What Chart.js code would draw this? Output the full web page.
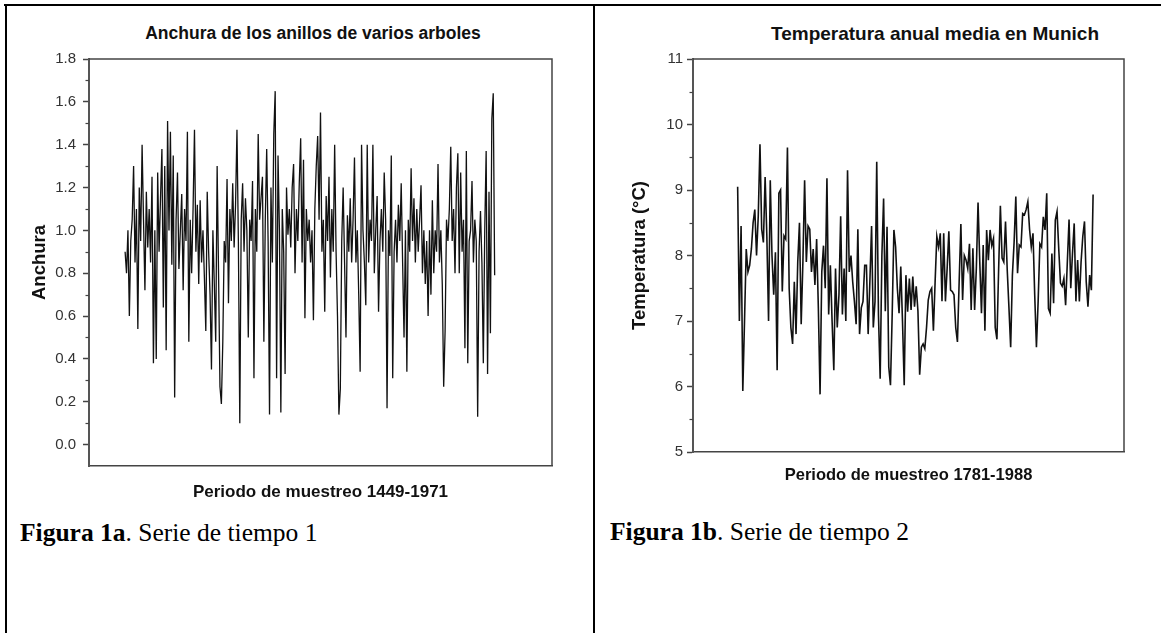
<!DOCTYPE html>
<html>
<head>
<meta charset="utf-8">
<script src="https://cdn.jsdelivr.net/npm/chart.js@4.4.1/dist/chart.umd.min.js"></script>
<style>
    body { margin: 0; width: 1161px; height: 633px; overflow: hidden; position: relative; background: #fff; font-family: 'Liberation Sans', Arial, sans-serif; }
    .rule { position: absolute; background: #000; }
    .box { position: absolute; }
    .title { position: absolute; width: 500px; text-align: center; font-weight: bold; line-height: 1; color: #111; white-space: nowrap; }
    .caption { position: absolute; font-family: 'Liberation Serif', 'Times New Roman', serif; font-size: 25.5px; line-height: 1; color: #000; white-space: nowrap; }
</style>
</head>
<body>
<div class="rule" style="left:4px; top:4px; width:1157px; height:2px;"></div>
<div class="rule" style="left:5px; top:4px; width:2px; height:629px;"></div>
<div class="rule" style="left:593px; top:4px; width:2px; height:629px;"></div>

<div class="title" style="left:63px; top:25px; font-size:17.5px;">Anchura de los anillos de varios arboles</div>
<div class="title" style="left:685px; top:24px; font-size:19px;">Temperatura anual media en Munich</div>

<div class="box" style="left:8px; top:8px; width:584px; height:500px;"><canvas id="ringsChart"></canvas></div>
<div class="box" style="left:596px; top:8px; width:565px; height:500px;"><canvas id="tempChart"></canvas></div>

<div class="caption" style="left:20px; top:520px;"><b>Figura 1a</b>. Serie de tiempo 1</div>
<div class="caption" style="left:610px; top:519px;"><b>Figura 1b</b>. Serie de tiempo 2</div>

<script>
// Figura 1a: anchura de anillos, una muestra cada 2 años (1449-1971)
const ringStartYear = 1449;
const ringStepYears = 2;
const ringWidths = [
    0.90, 0.80, 1.00, 0.60, 0.95, 1.05, 1.30, 0.85, 1.10, 0.54,
    1.20, 0.95, 1.40, 1.05, 0.72, 1.18, 0.92, 1.10, 0.85, 1.25,
    0.38, 1.00, 0.40, 1.27, 0.90, 1.15, 1.38, 0.64, 1.30, 0.44,
    1.51, 1.00, 1.46, 0.84, 1.35, 0.22, 1.05, 1.27, 0.82, 1.00,
    1.17, 0.72, 1.10, 0.95, 1.46, 0.48, 1.05, 0.80, 1.10, 1.47,
    0.90, 1.12, 0.75, 1.14, 0.85, 1.00, 0.78, 0.53, 1.18, 0.90,
    0.70, 0.35, 1.00, 0.75, 0.48, 1.30, 0.80, 0.27, 0.19, 0.48,
    0.95, 0.85, 1.24, 0.66, 1.10, 0.95, 1.22, 0.92, 1.12, 1.47,
    0.95, 0.10, 1.05, 1.22, 0.90, 1.15, 1.00, 0.50, 1.05, 0.95,
    1.23, 0.31, 1.10, 0.90, 1.45, 1.05, 1.15, 1.25, 0.48, 1.05,
    1.38, 0.95, 0.14, 1.20, 0.85, 1.45, 1.65, 0.31, 1.35, 1.00,
    0.15, 1.10, 0.90, 0.33, 1.20, 0.98, 1.10, 0.92, 1.20, 1.31,
    0.80, 1.10, 0.95, 1.22, 1.43, 0.85, 1.33, 0.59, 1.10, 0.95,
    1.05, 0.85, 1.00, 0.58, 1.10, 1.30, 1.44, 1.05, 1.55, 0.90,
    1.05, 0.62, 1.16, 0.95, 1.25, 0.78, 1.10, 0.90, 1.40, 0.90,
    0.60, 0.14, 0.26, 0.95, 1.20, 0.85, 0.50, 1.07, 0.90, 1.15,
    0.85, 1.05, 1.34, 0.85, 1.00, 0.70, 0.34, 1.40, 1.00, 0.85,
    0.65, 1.40, 0.85, 1.05, 0.95, 1.40, 0.80, 1.00, 1.16, 0.62,
    0.95, 1.10, 0.90, 1.27, 1.05, 0.17, 1.00, 0.88, 1.35, 0.31,
    0.90, 1.05, 0.85, 1.12, 0.95, 1.22, 0.85, 0.50, 1.00, 0.34,
    1.05, 0.90, 1.29, 0.95, 1.15, 0.85, 1.10, 0.90, 1.05, 1.21,
    0.80, 1.00, 0.75, 0.95, 0.60, 1.00, 0.70, 1.14, 0.80, 1.00,
    0.90, 1.31, 0.85, 1.00, 0.75, 0.27, 0.53, 1.05, 0.95, 1.10,
    1.39, 0.95, 1.10, 0.80, 1.20, 1.36, 0.80, 1.27, 0.90, 1.05,
    0.45, 1.37, 0.38, 0.95, 1.00, 1.23, 0.85, 1.05, 0.95, 0.13,
    0.90, 1.09, 0.85, 0.38, 1.00, 1.37, 0.33, 1.18, 0.52, 1.52,
    1.64, 0.79
];
const ringYTicks = [0.0, 0.2, 0.4, 0.6, 0.8, 1.0, 1.2, 1.4, 1.6, 1.8];
const ringYMinor = [0.1, 0.3, 0.5, 0.7, 0.9, 1.1, 1.3, 1.5, 1.7];

// Figura 1b: temperatura anual media en Munich (1781-1988)
const tempStartYear = 1781;
const munichTemps = [
    9.05, 7.00, 8.45, 5.93, 7.00, 8.10, 7.75, 7.85, 8.10, 8.50,
    8.70, 8.00, 8.60, 9.70, 8.40, 8.20, 9.20, 8.30, 7.00, 9.15,
    8.00, 7.40, 8.05, 6.25, 8.95, 9.00, 7.45, 8.30, 8.25, 9.65,
    7.50, 6.90, 6.65, 7.60, 6.80, 7.90, 8.50, 6.95, 7.90, 9.15,
    7.90, 8.45, 8.40, 7.75, 8.10, 7.55, 8.25, 7.20, 5.88, 7.75,
    8.15, 7.50, 9.18, 7.10, 7.85, 7.00, 6.25, 7.80, 6.90, 7.40,
    8.60, 7.10, 7.80, 7.00, 9.30, 7.75, 8.00, 7.60, 7.30, 6.95,
    8.40, 6.80, 7.20, 7.30, 7.85, 7.85, 6.80, 7.60, 8.45, 6.90,
    7.30, 9.43, 7.10, 6.12, 8.00, 8.87, 7.15, 8.44, 6.30, 6.02,
    7.10, 8.39, 8.13, 7.50, 7.12, 7.83, 7.00, 6.02, 7.70, 7.14,
    7.65, 7.17, 7.68, 7.22, 7.53, 7.15, 6.18, 6.60, 6.65, 6.58,
    6.90, 7.32, 7.45, 7.50, 6.85, 7.60, 8.29, 8.13, 8.34, 7.30,
    8.34, 7.30, 7.80, 8.37, 7.47, 7.45, 7.40, 6.90, 6.68, 7.60,
    8.48, 7.32, 8.00, 7.93, 7.80, 8.18, 7.17, 8.11, 7.17, 7.80,
    8.81, 7.90, 7.12, 8.16, 6.85, 8.39, 7.93, 8.39, 8.15, 8.26,
    6.90, 6.72, 7.80, 8.76, 7.96, 7.90, 8.52, 7.78, 7.20, 6.60,
    7.70, 8.20, 8.90, 7.73, 8.16, 8.13, 8.64, 8.62, 8.70, 8.82,
    8.40, 8.13, 8.34, 7.40, 6.60, 7.30, 8.18, 8.13, 8.59, 8.39,
    8.95, 7.19, 7.12, 8.03, 7.27, 8.54, 8.67, 8.10, 7.58, 7.53,
    7.65, 7.24, 7.90, 8.55, 7.50, 8.03, 8.49, 7.30, 7.93, 7.30,
    7.90, 8.29, 8.52, 7.60, 7.22, 7.70, 7.47, 8.93
];
const tempYTicks = [5, 6, 7, 8, 9, 10, 11];
const tempYMinor = [5.5, 6.5, 7.5, 8.5, 9.5, 10.5];

Chart.defaults.font.family = "'Liberation Sans', Arial, sans-serif";
Chart.defaults.color = '#333';

// marco superior/derecho y marcas menores del eje y
const frameAndMinor = {
    id: 'frameAndMinor',
    afterDraw(chart, args, opts) {
        const {ctx, chartArea: a} = chart;
        const y = chart.scales.y;
        ctx.save();
        ctx.strokeStyle = '#444';
        ctx.lineWidth = 1.5;
        ctx.beginPath();
        ctx.moveTo(a.left, a.top);
        ctx.lineTo(a.right, a.top);
        ctx.lineTo(a.right, a.bottom);
        ctx.stroke();
        ctx.lineWidth = 1.2;
        opts.minor.forEach(v => {
            const py = Math.round(y.getPixelForValue(v)) + 0.5;
            ctx.beginPath();
            ctx.moveTo(a.left - 3.5, py);
            ctx.lineTo(a.left, py);
            ctx.stroke();
        });
        ctx.restore();
    }
};

function makeSeriesChart(canvasId, cfg) {
    const points = cfg.values.map((v, i) => ({x: cfg.startYear + i * cfg.step, y: v}));
    return new Chart(document.getElementById(canvasId), {
        type: 'line',
        data: {
            datasets: [{
                data: points,
                borderColor: '#111',
                borderWidth: cfg.lineWidth,
                pointRadius: 0,
                tension: 0,
                fill: false
            }]
        },
        options: {
            responsive: true,
            maintainAspectRatio: false,
            animation: false,
            devicePixelRatio: 1,
            layout: {padding: {top: 51, right: cfg.padRight, bottom: 0, left: 0}},
            plugins: {
                legend: {display: false},
                tooltip: {enabled: false},
                frameAndMinor: {minor: cfg.minor}
            },
            scales: {
                x: {
                    type: 'linear',
                    min: cfg.xMin,
                    max: cfg.xMax,
                    ticks: {display: false},
                    grid: {display: false},
                    border: {display: true, color: '#444', width: 1.5},
                    title: {
                        display: true,
                        text: cfg.xTitle,
                        color: '#111',
                        font: {size: cfg.xTitleSize, weight: 'bold'},
                        padding: {top: 0, bottom: cfg.xTitlePad}
                    },
                    afterFit: scale => { scale.height = cfg.xHeight; }
                },
                y: {
                    min: cfg.yMin,
                    max: cfg.yMax,
                    afterBuildTicks: scale => { scale.ticks = cfg.ticks.map(v => ({value: v})); },
                    ticks: {
                        font: {size: 15},
                        color: '#333',
                        padding: cfg.tickPad,
                        callback: v => cfg.decimals ? v.toFixed(cfg.decimals) : String(v)
                    },
                    grid: {drawOnChartArea: false, drawTicks: true, tickLength: 6, tickColor: '#444', tickWidth: 1.5},
                    border: {display: true, color: '#555', width: 2},
                    title: {
                        display: true,
                        text: cfg.yTitle,
                        color: '#111',
                        font: {size: 18.5, weight: 'bold'},
                        padding: {top: cfg.yTitlePad, bottom: 0}
                    },
                    afterFit: scale => { scale.width = cfg.yWidth; }
                }
            }
        },
        plugins: [frameAndMinor]
    });
}

makeSeriesChart('ringsChart', {
    values: ringWidths, startYear: ringStartYear, step: ringStepYears,
    xMin: 1398, xMax: 2052, yMin: -0.1, yMax: 1.8,
    ticks: ringYTicks, minor: ringYMinor, decimals: 1,
    xTitle: 'Periodo de muestreo 1449-1971', xTitleSize: 17, xTitlePad: 5,
    yTitle: 'Anchura', yTitlePad: 21,
    xHeight: 42, yWidth: 81, padRight: 40, tickPad: 7, lineWidth: 1.3
});

makeSeriesChart('tempChart', {
    values: munichTemps, startYear: tempStartYear, step: 1,
    xMin: 1755, xMax: 2006, yMin: 5, yMax: 11,
    ticks: tempYTicks, minor: tempYMinor, decimals: 0,
    xTitle: 'Periodo de muestreo 1781-1988', xTitleSize: 16.5, xTitlePad: 23,
    yTitle: 'Temperatura (°C)', yTitlePad: 33,
    xHeight: 56, yWidth: 97, padRight: 37, tickPad: 4, lineWidth: 1.6
});
</script>
</body>
</html>
